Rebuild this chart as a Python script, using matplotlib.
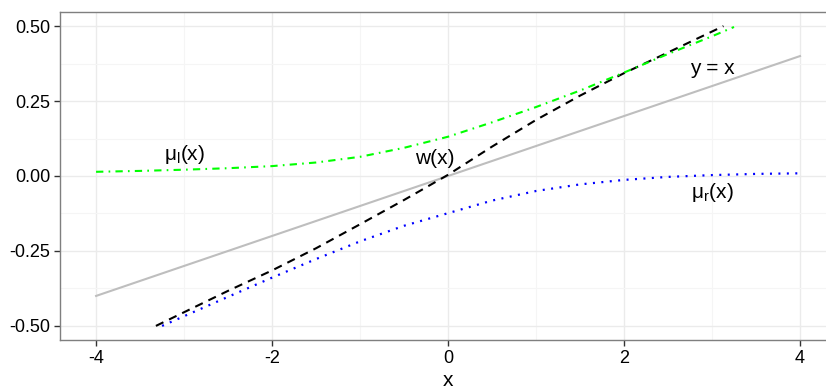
import numpy as np
import matplotlib
matplotlib.use('Agg')
from matplotlib import pyplot as plt
from matplotlib.ticker import MultipleLocator

plt.rcParams['font.family'] = ['Liberation Sans', 'DejaVu Sans']
plt.rcParams['mathtext.fontset'] = 'custom'
plt.rcParams['mathtext.rm'] = 'Liberation Sans'
plt.rcParams['mathtext.it'] = 'Liberation Sans'

# identity reference line (drawn as y = 0.1 x on this scale)
line_x = [-4.0, 4.0]
line_y = [-0.4, 0.4]

# w(x), black dashed
w_x = [-3.32, -2.5, -2.0, -1.5, -1.0, -0.5, 0.0, 0.5, 1.0, 1.5, 2.0, 2.5, 3.13]
w_y = [-0.5, -0.383, -0.315, -0.241, -0.161, -0.080, 0.004, 0.098, 0.187, 0.268, 0.343, 0.412, 0.5]

# mu_l(x), green dot-dash
ml_x = [-4.0, -3.5, -3.0, -2.5, -2.0, -1.5, -1.0, -0.5, 0.0, 0.5, 1.0, 1.5, 2.0, 2.5, 3.0, 3.25]
ml_y = [0.014, 0.017, 0.021, 0.026, 0.033, 0.045, 0.064, 0.094, 0.131, 0.179, 0.230, 0.285,
        0.345, 0.407, 0.466, 0.497]

# mu_r(x), blue dotted
mr_x = [-3.25, -2.5, -2.0, -1.5, -1.0, -0.5, 0.0, 0.5, 1.0, 1.5, 2.0, 2.5, 3.0, 3.5, 4.0]
mr_y = [-0.5, -0.403, -0.339, -0.277, -0.218, -0.166, -0.124, -0.082, -0.050, -0.028, -0.013,
        -0.003, 0.003, 0.007, 0.009]

x_ticks = [-4, -2, 0, 2, 4]
y_ticks = [-0.5, -0.25, 0.0, 0.25, 0.5]
y_ticklabels = ['-0.50', '-0.25', '0.00', '0.25', '0.50']

fig = plt.figure(figsize=(8.26, 3.9), dpi=100)
ax = fig.add_axes([60 / 826, 50 / 390, (835.2 - 60) / 826, 328 / 390])

ax.plot(line_x, line_y, color='#bebebe', lw=1.5)
ax.plot(w_x, w_y, color='black', lw=1.5, ls=(0, (4, 3)))
ax.plot(ml_x, ml_y, color='#00ff00', lw=1.5, ls=(0, (3.5, 2.5, 0.8, 2.5)))
ax.plot(mr_x, mr_y, color='#0000ff', lw=1.6, ls=(0, (0.9, 2.9)))

tsize = 15
ax.text(-3.0, 0.072, r'$\mathrm{\mu_{l}(x)}$', fontsize=tsize, ha='center', va='center')
ax.text(-0.15, 0.059, 'w(x)', fontsize=tsize, ha='center', va='center')
ax.text(3.0, 0.36, 'y = x', fontsize=tsize, ha='center', va='center')
ax.text(3.0, -0.055, r'$\mathrm{\mu_{r}(x)}$', fontsize=tsize, ha='center', va='center')

ax.set_xlim(-4.41, 4.4)
ax.set_ylim(-0.547, 0.547)
ax.set_xticks(x_ticks)
ax.set_xticklabels([str(t) for t in x_ticks])
ax.set_yticks(y_ticks)
ax.set_yticklabels(y_ticklabels)
ax.xaxis.set_minor_locator(MultipleLocator(1))
ax.yaxis.set_minor_locator(MultipleLocator(0.125))

ax.grid(which='major', color='#ebebeb', lw=1.0)
ax.grid(which='minor', color='#f5f5f5', lw=0.8)
ax.set_axisbelow(True)
for s in ax.spines.values():
    s.set_color('#7f7f7f')
    s.set_linewidth(1.0)
ax.tick_params(which='major', length=4, width=1, color='#333333', labelsize=13,
               labelcolor='black', pad=3)
ax.tick_params(which='minor', length=0)
ax.set_xlabel('x', fontsize=15, labelpad=3)

fig.savefig('out.png', dpi=100)
